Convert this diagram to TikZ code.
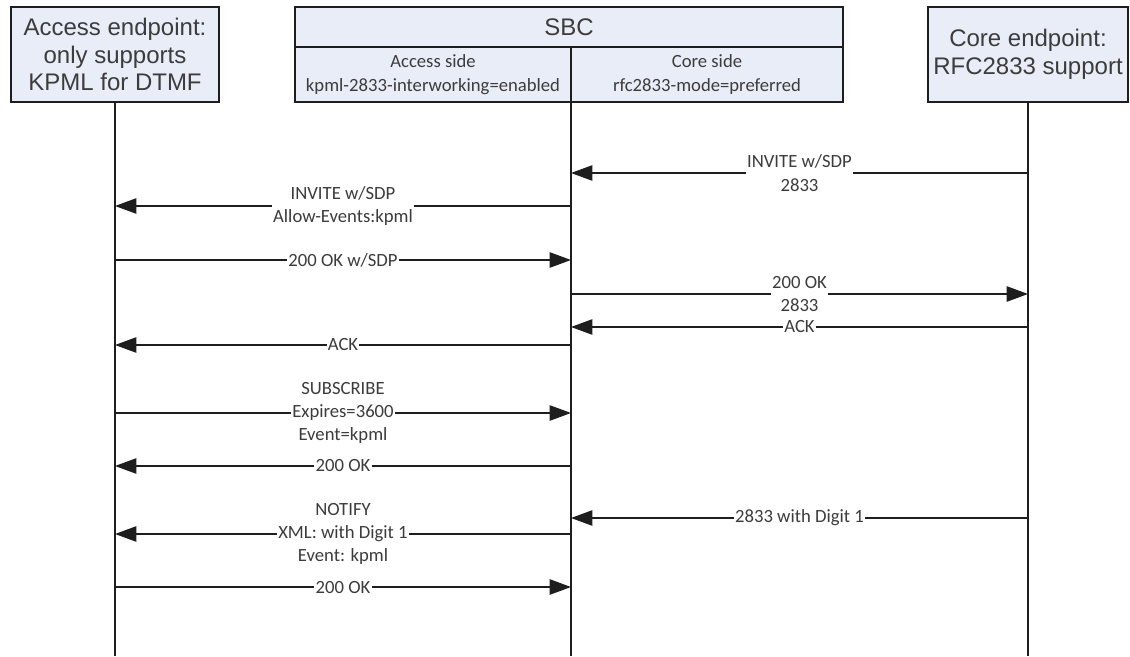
\documentclass[tikz,border=0pt]{standalone}
\usepackage{fontspec}
\setmainfont{Liberation Sans}
\newfontfamily\msgfont{Carlito}
\usepackage{tikz}
\usetikzlibrary{arrows.meta, positioning}
\definecolor{boxfill}{RGB}{233, 237, 247}
\definecolor{linedark}{RGB}{30, 30, 30}
\definecolor{textgrey}{RGB}{60, 60, 60}

\begin{document}
\begin{tikzpicture}[
    x=0.75pt, y=-0.75pt,
    party/.style={rectangle, draw=linedark, fill=boxfill, line width=1.1pt, inner sep=0pt,
      outer sep=0pt, align=center, text=textgrey, font=\fontsize{18}{20.7}\selectfont},
    sidebox/.style={party, font=\msgfont\fontsize{14}{17.5}\selectfont},
    life/.style={line width=1.1pt, linedark},
    msg/.style={line width=1.1pt, linedark, -{Triangle[length=16pt, width=11.5pt]}},
    lbl/.style={fill=white, inner sep=1pt, align=center, text=textgrey,
      font=\msgfont\fontsize{14}{17.5}\selectfont}
  ]
  \useasboundingbox (0,0) rectangle (1130,656);

  % parties
  \node[party, minimum width=156pt, minimum height=71.25pt] (acc) at (115,54.5)
    {Access endpoint:\\only supports\\KPML for DTMF};
  \node[party, minimum width=411pt, minimum height=30pt] (sbc) at (569,27) {SBC};
  \node[sidebox, minimum width=207pt, minimum height=41.25pt] (accside) at (433,74.5)
    {Access side\\kpml-2833-interworking=enabled};
  \node[sidebox, minimum width=204pt, minimum height=41.25pt] (coreside) at (707,74.5)
    {Core side\\rfc2833-mode=preferred};
  \node[party, minimum width=150pt, minimum height=71.25pt] (core) at (1028,54.5)
    {Core endpoint:\\RFC2833 support};

  % lifelines
  \coordinate (accl) at (acc.south);
  \coordinate (sbcl) at (accside.south east);
  \coordinate (corel) at (core.south);
  \coordinate (bottom) at (0,656);
  \draw[life] (accl) -- (accl |- bottom);
  \draw[life] (sbcl) -- (sbcl |- bottom);
  \draw[life] (corel) -- (corel |- bottom);

  % message rows
  \coordinate (m1) at (0,173);
  \coordinate (m2) at (0,206);
  \coordinate (m3) at (0,260);
  \coordinate (m4) at (0,294);
  \coordinate (m5) at (0,327);
  \coordinate (m6) at (0,345);
  \coordinate (m7) at (0,413);
  \coordinate (m8) at (0,466);
  \coordinate (m9) at (0,518);
  \coordinate (m10) at (0,534);
  \coordinate (m11) at (0,587);

  \draw[msg] (corel |- m1) -- node[lbl] (l1) {INVITE w/SDP\\2833} (sbcl |- m1);
  \draw[msg] (sbcl |- m2) -- node[lbl] (l2) {INVITE w/SDP\\Allow-Events:kpml} (accl |- m2);
  \draw[msg] (accl |- m3) -- node[lbl] (l3) {200 OK w/SDP} (sbcl |- m3);
  \draw[msg] (sbcl |- m4) -- node[lbl] (l4) {200 OK\\2833} (corel |- m4);
  \draw[msg] (corel |- m5) -- node[lbl] (l5) {ACK} (sbcl |- m5);
  \draw[msg] (sbcl |- m6) -- node[lbl] (l6) {ACK} (accl |- m6);
  \draw[msg] (accl |- m7) -- node[lbl] (l7) {SUBSCRIBE\\Expires=3600\\Event=kpml} (sbcl |- m7);
  \draw[msg] (sbcl |- m8) -- node[lbl] (l8) {200 OK} (accl |- m8);
  \draw[msg] (corel |- m9) -- node[lbl] (l9) {2833 with Digit 1} (sbcl |- m9);
  \draw[msg] (sbcl |- m10) -- node[lbl] (l10) {NOTIFY\\XML: with Digit 1\\Event: kpml} (accl |- m10);
  \draw[msg] (accl |- m11) -- node[lbl] (l11) {200 OK} (sbcl |- m11);
\end{tikzpicture}
\end{document}
